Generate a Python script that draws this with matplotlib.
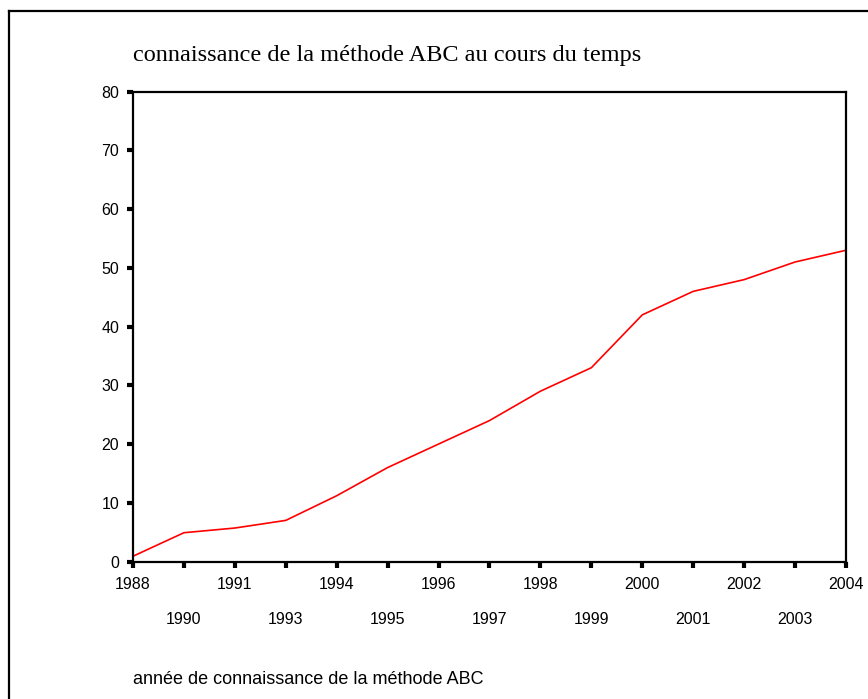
import matplotlib
matplotlib.use("Agg")
import matplotlib.pyplot as plt
from matplotlib.lines import Line2D

years = ["1988", "1990", "1991", "1993", "1994", "1995", "1996", "1997",
         "1998", "1999", "2000", "2001", "2002", "2003", "2004"]
values = [0.9, 4.9, 5.7, 7.0, 11.2, 16.0, 20.0, 24.0, 29.0, 33.0, 42.0, 46.0, 48.0, 51.0, 53.0]
yticks = [0, 10, 20, 30, 40, 50, 60, 70, 80]

title = "connaissance de la méthode ABC au cours du temps"
xlabel = "année de connaissance de la méthode ABC"

W, H = 868, 699
fig = plt.figure(figsize=(W / 100, H / 100), dpi=100)
fig.patch.set_facecolor("white")

# outer frame (top and left visible)
fig.add_artist(Line2D([9 / W, 1], [1 - 10.5 / H, 1 - 10.5 / H], color="black", lw=1.6,
                      transform=fig.transFigure))
fig.add_artist(Line2D([9 / W, 9 / W], [0, 1 - 10.5 / H], color="black", lw=1.6,
                      transform=fig.transFigure))

ax = fig.add_axes([133 / W, 1 - 561.5 / H, (846 - 133) / W, (561.5 - 91.7) / H])
x = list(range(len(years)))
ax.plot(x, values, color="#ff0000", lw=1.2)

ax.set_xlim(0, len(years) - 1)
ax.set_ylim(0, 80)

for s in ax.spines.values():
    s.set_linewidth(1.6)
    s.set_color("black")

ax.set_yticks(yticks)
ax.set_yticklabels([str(v) for v in yticks])

major = [i for i in x if i % 2 == 0]
minor = [i for i in x if i % 2 == 1]
ax.set_xticks(major)
ax.set_xticklabels([years[i] for i in major])
ax.set_xticks(minor, minor=True)
ax.set_xticklabels([years[i] for i in minor], minor=True)

font = "Liberation Sans"
ax.tick_params(axis="both", which="both", direction="out", length=4, width=3,
               color="black", labelsize=11.5)
ax.tick_params(axis="x", which="major", pad=7.5)
ax.tick_params(axis="x", which="minor", pad=32)
ax.tick_params(axis="y", pad=6)
for lab in ax.get_xticklabels(which="both") + ax.get_yticklabels():
    lab.set_fontfamily(font)

fig.text(133 / W, 1 - 55 / H, title, family="Liberation Serif", fontsize=17.5,
         ha="left", va="center")
fig.text(133 / W, 1 - 679 / H, xlabel, family=font, fontsize=13,
         ha="left", va="center")

fig.savefig("out.png", dpi=100, facecolor="white")
